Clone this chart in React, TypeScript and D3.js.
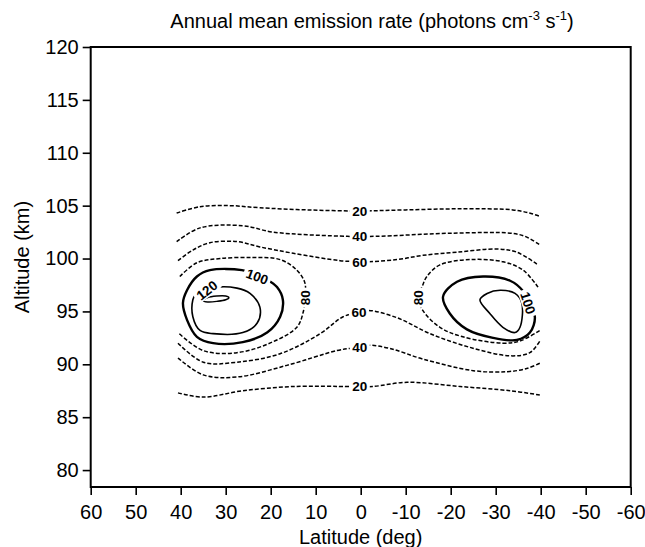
import { useEffect, useRef } from 'react';
import { select, scaleLinear, axisBottom, axisLeft, line, curveCatmullRom, curveCatmullRomClosed } from 'd3';

type Pt = [number, number]; // [latitude deg, altitude km]

const W = 645;
const H = 547;
const left = 90.7;
const right = 630.7;
const top = 47;
const bottom = 487;
const font = 'Liberation Sans, Arial, Helvetica, sans-serif';

const latTicks = [60, 50, 40, 30, 20, 10, 0, -10, -20, -30, -40, -50, -60];
const altTicks = [80, 85, 90, 95, 100, 105, 110, 115, 120];

// contour traces
const c20top: Pt[] = [[40.9, 104.3], [35.7, 104.9], [29, 105.0], [22.4, 104.8], [12, 104.6], [0.2, 104.5], [-10, 104.6], [-22.1, 104.7], [-33.8, 104.6], [-37.5, 104.3], [-39.8, 104.0]];
const c40top: Pt[] = [[40.9, 101.6], [35.7, 102.9], [26.2, 103.1], [19.5, 102.5], [3.0, 102.1], [0.2, 102.1], [-3.4, 102.1], [-20.5, 102.4], [-33.2, 102.4], [-36.5, 102.1], [-39.8, 101.3]];
const c60top: Pt[] = [[40.6, 99.8], [37.3, 100.8], [33.5, 101.5], [27.5, 101.6], [22.4, 101.1], [15.0, 100.5], [4.6, 99.8], [0.2, 99.7], [-1.6, 99.7], [-8.1, 99.9], [-13.8, 100.3], [-21.4, 100.6], [-30.3, 100.9], [-34.7, 100.6], [-39.4, 99.4]];
const c80left: Pt[] = [[40.2, 98.3], [36.4, 99.6], [31.2, 100.0], [23.9, 100.1], [17.9, 99.9], [14.2, 98.9], [12.4, 97.7], [12.4, 96.3], [12.8, 94.9], [14.2, 93.5], [20.2, 92.0], [27.5, 91.1], [35.0, 91.3], [40.6, 93.0]];
const c80right: Pt[] = [[-39.4, 97.3], [-36.1, 98.9], [-31.6, 99.7], [-24.3, 99.9], [-17.6, 99.4], [-14.7, 98.3], [-13.6, 97.3], [-12.7, 96.4], [-13.8, 95.1], [-17.6, 93.5], [-22.7, 92.6], [-31.6, 92.0], [-35.4, 92.2], [-39.8, 93.2]];
const c60bottom: Pt[] = [[40.6, 92.0], [35.0, 90.2], [27.5, 90.2], [17.9, 91.0], [9.0, 92.9], [3.9, 94.5], [0.4, 94.9], [-1.6, 95.1], [-8.1, 94.4], [-15.4, 92.9], [-24.3, 91.6], [-33.2, 90.8], [-37.6, 91.1], [-39.8, 92.2]];
const c40bottom: Pt[] = [[40.6, 90.6], [35.0, 89.0], [27.5, 88.8], [16.4, 89.9], [5.3, 91.3], [2.4, 91.5], [0.2, 91.6], [-1.6, 91.8], [-6.5, 91.5], [-13.8, 90.5], [-25.0, 89.4], [-32.5, 89.3], [-36.9, 89.6], [-39.8, 90.1]];
const c20bottom: Pt[] = [[40.6, 87.3], [35.0, 86.9], [26.2, 87.5], [15, 87.9], [2.4, 87.9], [0.2, 87.9], [-2.7, 87.9], [-10.3, 88.3], [-22.1, 87.9], [-33.2, 87.5], [-39.8, 87.1]];
const c100left: Pt[] = [[23.0, 98.4], [26.4, 98.9], [33.5, 98.9], [36.4, 98.3], [38.6, 97.0], [39.5, 95.8], [38.6, 94.2], [36.4, 92.6], [32.8, 92.0], [26.2, 92.1], [20.8, 93.0], [17.9, 94.5], [17.3, 96.1], [18.6, 97.3], [20.8, 98.0]];
const c120left: Pt[] = [[34.2, 97.0], [31.9, 97.3], [27.5, 97.2], [24.6, 96.7], [22.4, 95.4], [23.0, 93.9], [26.2, 93.0], [32.8, 92.9], [35.7, 93.2], [37.3, 94.5], [37.3, 96.1], [36.6, 96.7]];
const c140left: Pt[] = [[35.0, 96.0], [34.0, 96.3], [32.0, 96.45], [30.0, 96.45], [29.3, 96.3], [30.0, 96.1], [32.0, 95.95], [34.0, 95.9]];
const c100right: Pt[] = [[-37.2, 95.8], [-36.1, 96.9], [-33.2, 97.9], [-27.2, 98.3], [-21.4, 97.8], [-18.3, 96.4], [-19.8, 94.8], [-23.6, 93.3], [-29.4, 92.5], [-34.7, 92.3], [-37.6, 93.0], [-38.7, 94.5]];
const c120right: Pt[] = [[-26.5, 96.1], [-28.1, 96.7], [-31.0, 97.0], [-34.3, 96.7], [-35.8, 95.8], [-35.4, 93.5], [-34.3, 93.0], [-31.6, 93.5], [-28.7, 94.8]];

const contours = [
  { pts: c20top, dashed: true, closed: false, width: 1.5 },
  { pts: c40top, dashed: true, closed: false, width: 1.5 },
  { pts: c60top, dashed: true, closed: false, width: 1.5 },
  { pts: c80left, dashed: true, closed: false, width: 1.5 },
  { pts: c80right, dashed: true, closed: false, width: 1.5 },
  { pts: c60bottom, dashed: true, closed: false, width: 1.5 },
  { pts: c40bottom, dashed: true, closed: false, width: 1.5 },
  { pts: c20bottom, dashed: true, closed: false, width: 1.5 },
  { pts: c100left, dashed: false, closed: true, width: 2.4 },
  { pts: c120left, dashed: false, closed: true, width: 1.6 },
  { pts: c140left, dashed: false, closed: true, width: 1.5 },
  { pts: c100right, dashed: false, closed: true, width: 2.4 },
  { pts: c120right, dashed: false, closed: true, width: 1.6 },
];

const labelText = ['20', '40', '60', '80', '100', '120', '60', '40', '20', '80', '100'];
const labelLat = [0.2, 0.2, 0.2, 12.4, 23.0, 34.2, 0.4, 0.2, 0.2, -12.7, -37.2];
const labelAlt = [104.5, 102.1, 99.7, 96.3, 98.3, 97.0, 94.9, 91.6, 87.9, 96.3, 95.8];
const labelAngle = [0, 0, 0, -90, 20, -38, 0, 0, 0, -90, 72];

const x = scaleLinear().domain([60, -60]).range([left, right]);
const y = scaleLinear().domain([78.4, 120]).range([bottom, top]);

const XAxis = () => {
  const axis = useRef<SVGGElement>(null);
  useEffect(() => {
    if (axis.current) {
      const g = select(axis.current);
      g.call(
        axisBottom(x)
          .tickValues(latTicks)
          .tickSize(8)
          .tickSizeOuter(0)
          .tickPadding(10)
          .tickFormat((d) => String(d))
      );
      g.select('.domain').remove();
      g.attr('font-size', 20).attr('font-family', font);
      g.selectAll('line').attr('stroke-width', 1.6);
      g.selectAll('text').attr('fill', '#000');
    }
  });
  return <g ref={axis} transform={`translate(0, ${bottom})`} />;
};

const YAxis = () => {
  const axis = useRef<SVGGElement>(null);
  useEffect(() => {
    if (axis.current) {
      const g = select(axis.current);
      g.call(
        axisLeft(y)
          .tickValues(altTicks)
          .tickSize(8)
          .tickSizeOuter(0)
          .tickPadding(4)
          .tickFormat((d) => String(d))
      );
      g.select('.domain').remove();
      g.attr('font-size', 20).attr('font-family', font);
      g.selectAll('line').attr('stroke-width', 1.6);
      g.selectAll('text').attr('fill', '#000');
    }
  });
  return <g ref={axis} transform={`translate(${left}, 0)`} />;
};

const openLine = line<Pt>()
  .x((d) => x(d[0]))
  .y((d) => y(d[1]))
  .curve(curveCatmullRom.alpha(0.5));
const closedLine = line<Pt>()
  .x((d) => x(d[0]))
  .y((d) => y(d[1]))
  .curve(curveCatmullRomClosed.alpha(0.5));

export default function App() {
  return (
    <svg width={W} height={H} style={{ position: 'absolute', left: 0, top: 0, background: '#fff' }}>
      <rect x={0} y={0} width={W} height={H} fill="#fff" />
      <text x={372} y={28} textAnchor="middle" fontFamily={font} fontSize={20}>
        Annual mean emission rate (photons cm
        <tspan dy={-8} fontSize={13}>-3</tspan>
        <tspan dy={8}> s</tspan>
        <tspan dy={-8} fontSize={13}>-1</tspan>
        <tspan dy={8}>)</tspan>
      </text>
      <g>
        {contours.map((c, i) => (
          <path
            key={i}
            d={(c.closed ? closedLine : openLine)(c.pts) ?? ''}
            fill="none"
            stroke="#000"
            strokeWidth={c.width}
            strokeDasharray={c.dashed ? '4 2' : undefined}
          />
        ))}
      </g>
      <g fontFamily={font} fontSize={13.5} fontWeight="bold">
        {labelText.map((t, i) => {
          const w = t.length * 8 + 4;
          return (
            <g key={i} transform={`translate(${x(labelLat[i])}, ${y(labelAlt[i])}) rotate(${labelAngle[i]})`}>
              <rect x={-w / 2} y={-6.5} width={w} height={13} fill="#fff" />
              <text textAnchor="middle" dy="0.36em">
                {t}
              </text>
            </g>
          );
        })}
      </g>
      <rect x={left} y={top} width={right - left} height={bottom - top} fill="none" stroke="#000" strokeWidth={2} />
      <XAxis />
      <YAxis />
      <text x={(left + right) / 2} y={544} textAnchor="middle" fontFamily={font} fontSize={20}>
        Latitude (deg)
      </text>
      <text
        transform={`translate(29, ${(top + bottom) / 2 - 10}) rotate(-90)`}
        textAnchor="middle"
        fontFamily={font}
        fontSize={20}
      >
        Altitude (km)
      </text>
    </svg>
  );
}
